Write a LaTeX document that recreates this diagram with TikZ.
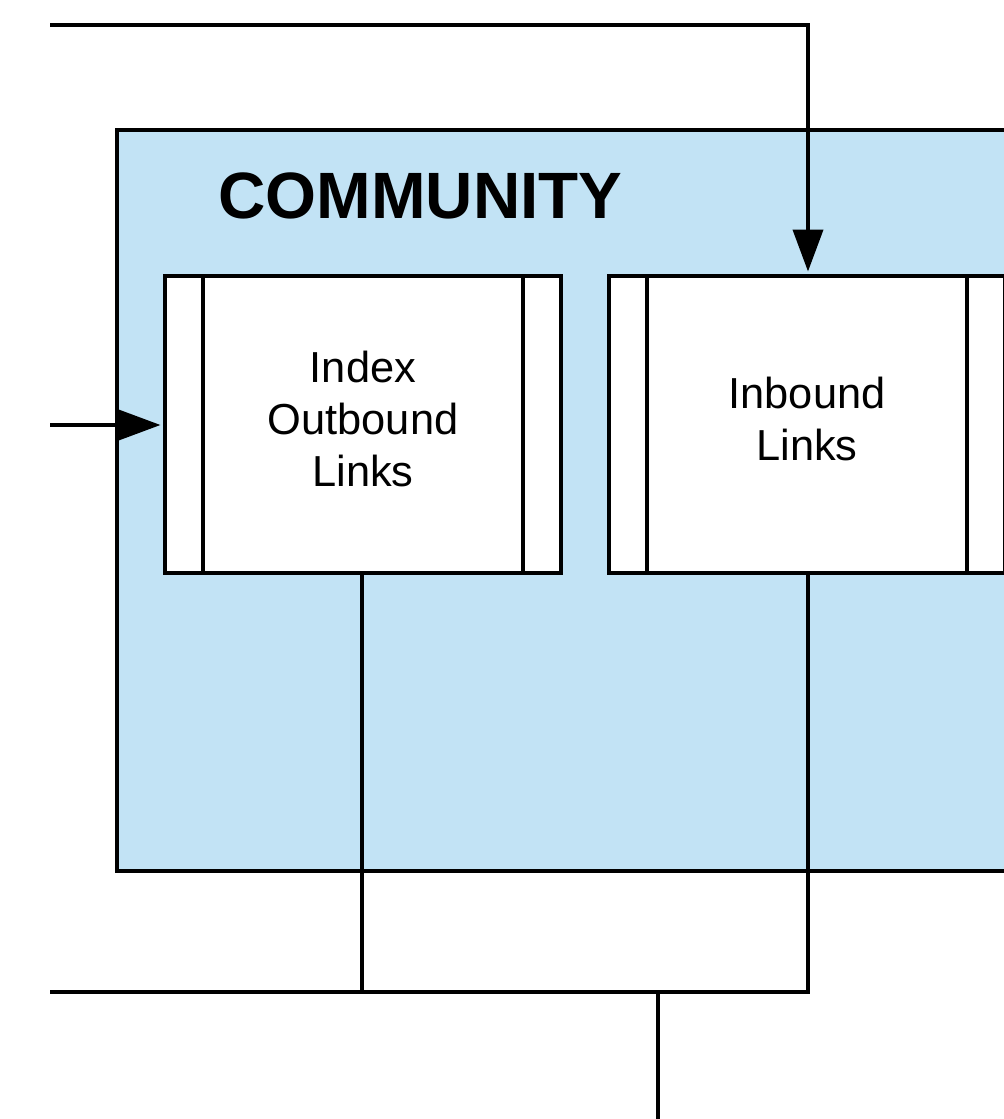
\documentclass[tikz,border=0pt]{standalone}
\usepackage{fontspec}
\setmainfont{Liberation Sans}
\usetikzlibrary{arrows.meta}
\definecolor{commblue}{RGB}{194,227,245}
\tikzset{
  px/.style={x=0.02cm,y=-0.02cm},
  wire/.style={line width=0.08cm,draw=black},
  thinwire/.style={line width=0.065cm,draw=black},
  arr/.style={wire,-{Triangle[length=0.84cm,width=0.6cm]}},
  procbox/.style={draw=black,line width=0.075cm,fill=white,minimum width=7.92cm,minimum height=5.94cm,inner sep=0pt},
  boxtext/.style={inner sep=0pt,align=center,font=\fontsize{24.7pt}{29.6pt}\selectfont},
  region/.style={draw=black,line width=0.08cm,fill=commblue,inner sep=0pt,anchor=north west},
}
\begin{document}
\begin{tikzpicture}[px]
\useasboundingbox (0,0) rectangle (1004,1119);
\clip (0,0) rectangle (1004,1119);
% community region
\node[region,minimum width=19.5cm,minimum height=14.82cm] (comm) at (115,128) {};
\node[anchor=base west,inner sep=0pt,font=\fontsize{37.3pt}{44pt}\selectfont\bfseries] (title) at (218,218) {COMMUNITY};
% process boxes
\node[procbox] (idx) at (363,424.5) {};
\node[procbox] (inb) at (807,424.5) {};
\foreach \b in {idx,inb}{
  \draw[procbox] ([xshift=0.8cm]\b.north west) -- ([xshift=0.8cm]\b.south west);
  \draw[procbox] ([xshift=-0.8cm]\b.north east) -- ([xshift=-0.8cm]\b.south east);
}
\node[boxtext] (idxtext) at ([yshift=0.12cm]idx.center) {Index\\Outbound\\Links};
\node[boxtext] (inbtext) at ([yshift=0.12cm]inb.center) {Inbound\\Links};
% free ends
\coordinate (topL) at (50,25);
\coordinate (topR) at (808,25);
\coordinate (inL) at (50,425);
\coordinate (botL) at (50,992);
\coordinate (botA) at (362,992);
\coordinate (botB) at (808,992);
\coordinate (botJ) at (658,992);
\coordinate (botEnd) at (658,1119);
% connectors
\draw[arr,shorten >=1.5pt] (topL) -- (topR) -- (inb.north -| topR);
\draw[arr,shorten >=1.5pt] (inL) -- (inL -| idx.west);
\draw[thinwire] (idx.south -| botA) -- (botA);
\draw[thinwire] (inb.south -| botB) -- (botB);
\draw[wire] (botL) -- (botA) -- (botB) -- (inb.south -| botB);
\draw[thinwire] (botJ) -- (botEnd);
\end{tikzpicture}
\end{document}
